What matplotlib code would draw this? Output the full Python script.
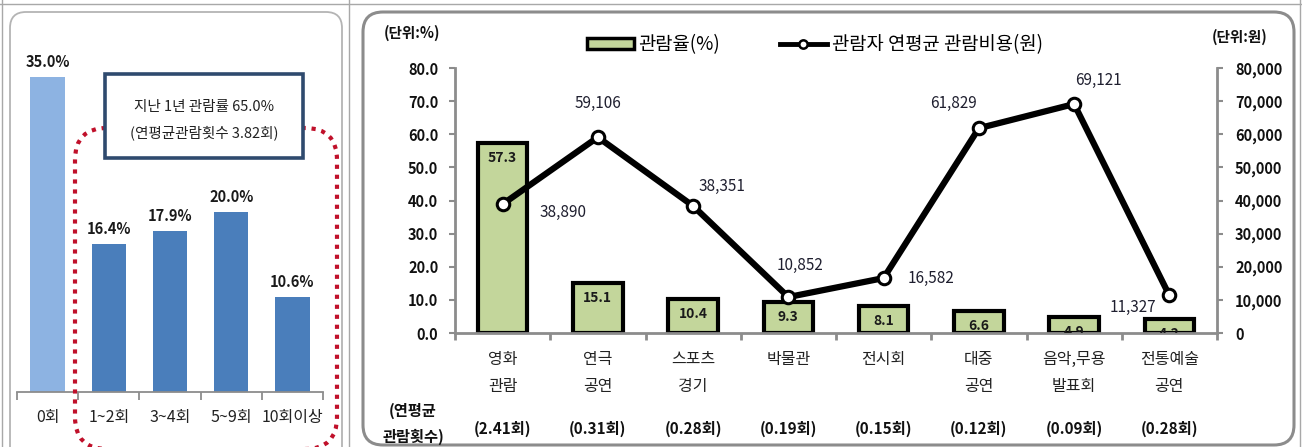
import matplotlib
matplotlib.use('Agg')
import matplotlib.pyplot as plt
import matplotlib.transforms as mtransforms
from matplotlib.patches import FancyBboxPatch, Rectangle, Patch
from matplotlib.lines import Line2D
import numpy as np

plt.rcParams['font.family'] = ['Noto Sans CJK KR', 'DejaVu Sans']

W, H = 1302, 447

# left panel: distribution of yearly viewing frequency
freq_labels = ['0회', '1~2회', '3~4회', '5~9회', '10회이상']
freq_share = [35.0, 16.4, 17.9, 20.0, 10.6]
summary_text = '지난 1년 관람률 65.0%\n(연평균관람횟수 3.82회)'

# right panel: viewing rate and average yearly spending by genre
genres = ['영화\n관람', '연극\n공연', '스포츠\n경기', '박물관', '전시회',
          '대중\n공연', '음악,무용\n발표회', '전통예술\n공연']
view_rate = [57.3, 15.1, 10.4, 9.3, 8.1, 6.6, 4.9, 4.2]
avg_cost = [38890, 59106, 38351, 10852, 16582, 61829, 69121, 11327]
avg_count = ['(2.41회)', '(0.31회)', '(0.28회)', '(0.19회)', '(0.15회)',
             '(0.12회)', '(0.09회)', '(0.28회)']

# where each cost label sits relative to its point (pixels)
cost_label_offsets = [(60, -8), (0, 34), (29, 19), (12, 32), (47, 0),
                      (-25, 25), (24, 24), (-36, -12)]

fig = plt.figure(figsize=(W / 100, H / 100), dpi=100)
fig.patch.set_facecolor('white')

# pixel transform, origin bottom-left
PX = mtransforms.Affine2D().scale(1 / fig.dpi) + fig.dpi_scale_trans


def fig_rect(x0, y0, x1, y1):
    # pixel box (top-left origin) -> figure fraction rect
    return [x0 / W, 1 - y1 / H, (x1 - x0) / W, (y1 - y0) / H]


def px_box(x0, y0, x1, y1, r, **kw):
    return FancyBboxPatch((x0, H - y1), x1 - x0, y1 - y0, transform=PX,
                          boxstyle=f'round,pad=0,rounding_size={r}', **kw)


# frames
fig.add_artist(px_box(10, 12, 342, 480, 16, fc='white', ec='#b4b4b4', lw=1.3, zorder=-2))
fig.add_artist(px_box(363, 12, 1294, 445, 20, fc='white', ec='#8c8c8c', lw=2.2, zorder=-2))
for xv in [2, 349, 1300]:
    fig.add_artist(Line2D([xv, xv], [0, H], transform=PX, color='#a8a8a8', lw=1, zorder=-3))
fig.add_artist(Line2D([0, W], [H - 4, H - 4], transform=PX, color='#a8a8a8', lw=1, zorder=-3))

gray = '#8c8c8c'

# ---------------- left panel ----------------
axL = fig.add_axes(fig_rect(17, 32, 323, 392))
axL.set_facecolor('none')
xl = np.arange(len(freq_labels))
colors = ['#8db3e2'] + ['#4a7ebb'] * (len(freq_labels) - 1)
axL.bar(xl, freq_share, width=0.56, color=colors)
for i, v in enumerate(freq_share):
    axL.annotate(f'{v:.1f}%', (i, v), xytext=(0, 7), textcoords='offset pixels',
                 ha='center', va='bottom', fontsize=10.5, fontweight='bold', color='#1a1a1a')
axL.set_xlim(-0.5, len(freq_labels) - 0.5)
axL.set_ylim(0, 40)
for s in ['top', 'left', 'right']:
    axL.spines[s].set_visible(False)
axL.spines['bottom'].set_color(gray)
axL.spines['bottom'].set_linewidth(1.3)
axL.set_yticks([])
axL.set_xticks(xl)
axL.set_xticklabels(freq_labels, fontsize=11.5, color='#222222')
axL.set_xticks(np.arange(-0.5, len(freq_labels)), minor=True)
axL.tick_params(axis='x', which='major', length=0, pad=12)
axL.tick_params(axis='x', which='minor', length=6, color=gray, width=1.3)

# dotted outline around viewers and summary box
fig.add_artist(px_box(75, 128, 337, 449, 32, fc='none', ec='#c0102a', lw=3,
                      ls=(0, (1, 1.4)), zorder=3))
fig.add_artist(Rectangle((105, H - 158), 198, 84, transform=PX, fc='white',
                         ec='#2f4a6e', lw=2.6, zorder=4))
fig.text(204 / W, 1 - 120 / H, summary_text, ha='center', va='center', fontsize=10.5,
         linespacing=1.9, color='#222222', zorder=5)

# ---------------- right panel ----------------
axR = fig.add_axes(fig_rect(455, 68, 1217, 333))
axR.set_facecolor('none')
x = np.arange(len(genres))
axR.bar(x, view_rate, width=0.52, color='#c3d69b', edgecolor='black', linewidth=3, zorder=2)
for i, v in enumerate(view_rate):
    axR.text(i, v - 2.4, f'{v:.1f}', ha='center', va='top', fontsize=10,
             fontweight='bold', color='#1a1a1a', zorder=3, clip_on=True)
axR.set_xlim(-0.5, len(genres) - 0.5)
axR.set_ylim(0, 80)
axR.set_yticks(np.arange(0, 81, 10))
axR.yaxis.set_major_formatter('{x:.1f}')
for s in ['top', 'right']:
    axR.spines[s].set_visible(False)
for s in ['left', 'bottom']:
    axR.spines[s].set_color(gray)
    axR.spines[s].set_linewidth(2)
axR.tick_params(axis='y', length=4, width=1.5, color=gray, pad=8, labelsize=10.5,
                labelcolor='#111111')
axR.set_xticks(x)
axR.set_xticklabels(genres, fontsize=11.5, linespacing=1.75, color='#222222')
axR.set_xticks(np.arange(-0.5, len(genres)), minor=True)
axR.tick_params(axis='x', which='major', length=0, pad=13)
axR.tick_params(axis='x', which='minor', length=5, color=gray, width=2)
for lab in axR.get_yticklabels():
    lab.set_fontweight('bold')

trans = mtransforms.blended_transform_factory(axR.transData, axR.transAxes)
for i, c in enumerate(avg_count):
    axR.text(i, -0.36, c, transform=trans, ha='center', va='center', fontsize=11,
             fontweight='bold', color='#111111', clip_on=False)
fig.text(413 / W, 1 - 424 / H, '(연평균\n관람횟수)', ha='center', va='center', fontsize=11,
         fontweight='bold', color='#111111', linespacing=1.75)

ax2 = axR.twinx()
ax2.plot(x, avg_cost, color='black', lw=4.5, marker='o', ms=9, mfc='white',
         mec='black', mew=2.2, zorder=4)
for i, v in enumerate(avg_cost):
    dx, dy = cost_label_offsets[i]
    ax2.annotate(f'{v:,}', (i, v), xytext=(dx, dy), textcoords='offset pixels',
                 ha='center', va='center', fontsize=11, color='#1f1f2f')
ax2.set_ylim(0, 80000)
ax2.set_yticks(np.arange(0, 80001, 10000))
ax2.yaxis.set_major_formatter('{x:,.0f}')
for s in ['top', 'left', 'bottom']:
    ax2.spines[s].set_visible(False)
ax2.spines['right'].set_color(gray)
ax2.spines['right'].set_linewidth(2)
ax2.tick_params(axis='y', length=4, width=1.5, color=gray, pad=9, labelsize=10.5,
                labelcolor='#111111')
for lab in ax2.get_yticklabels():
    lab.set_fontweight('bold')

fig.text(412 / W, 1 - 33 / H, '(단위:%)', ha='center', va='center', fontsize=10.5,
         fontweight='bold', color='#111111')
fig.text(1240 / W, 1 - 37 / H, '(단위:원)', ha='center', va='center', fontsize=10.5,
         fontweight='bold', color='#111111')

handles = [Patch(fc='#c3d69b', ec='black', lw=2.5),
           Line2D([], [], color='black', lw=3.5, marker='o', ms=6, mfc='white', mec='black', mew=1.8)]
axR.legend(handles, ['관람율(%)', '관람자 연평균 관람비용(원)'], loc='center',
           bbox_to_anchor=(0.472, 1.087), ncol=2, frameon=False, handlelength=2.5,
           handleheight=0.55, columnspacing=3.2, handletextpad=0.25, fontsize=13.5)

fig.savefig('out.png', dpi=100)
